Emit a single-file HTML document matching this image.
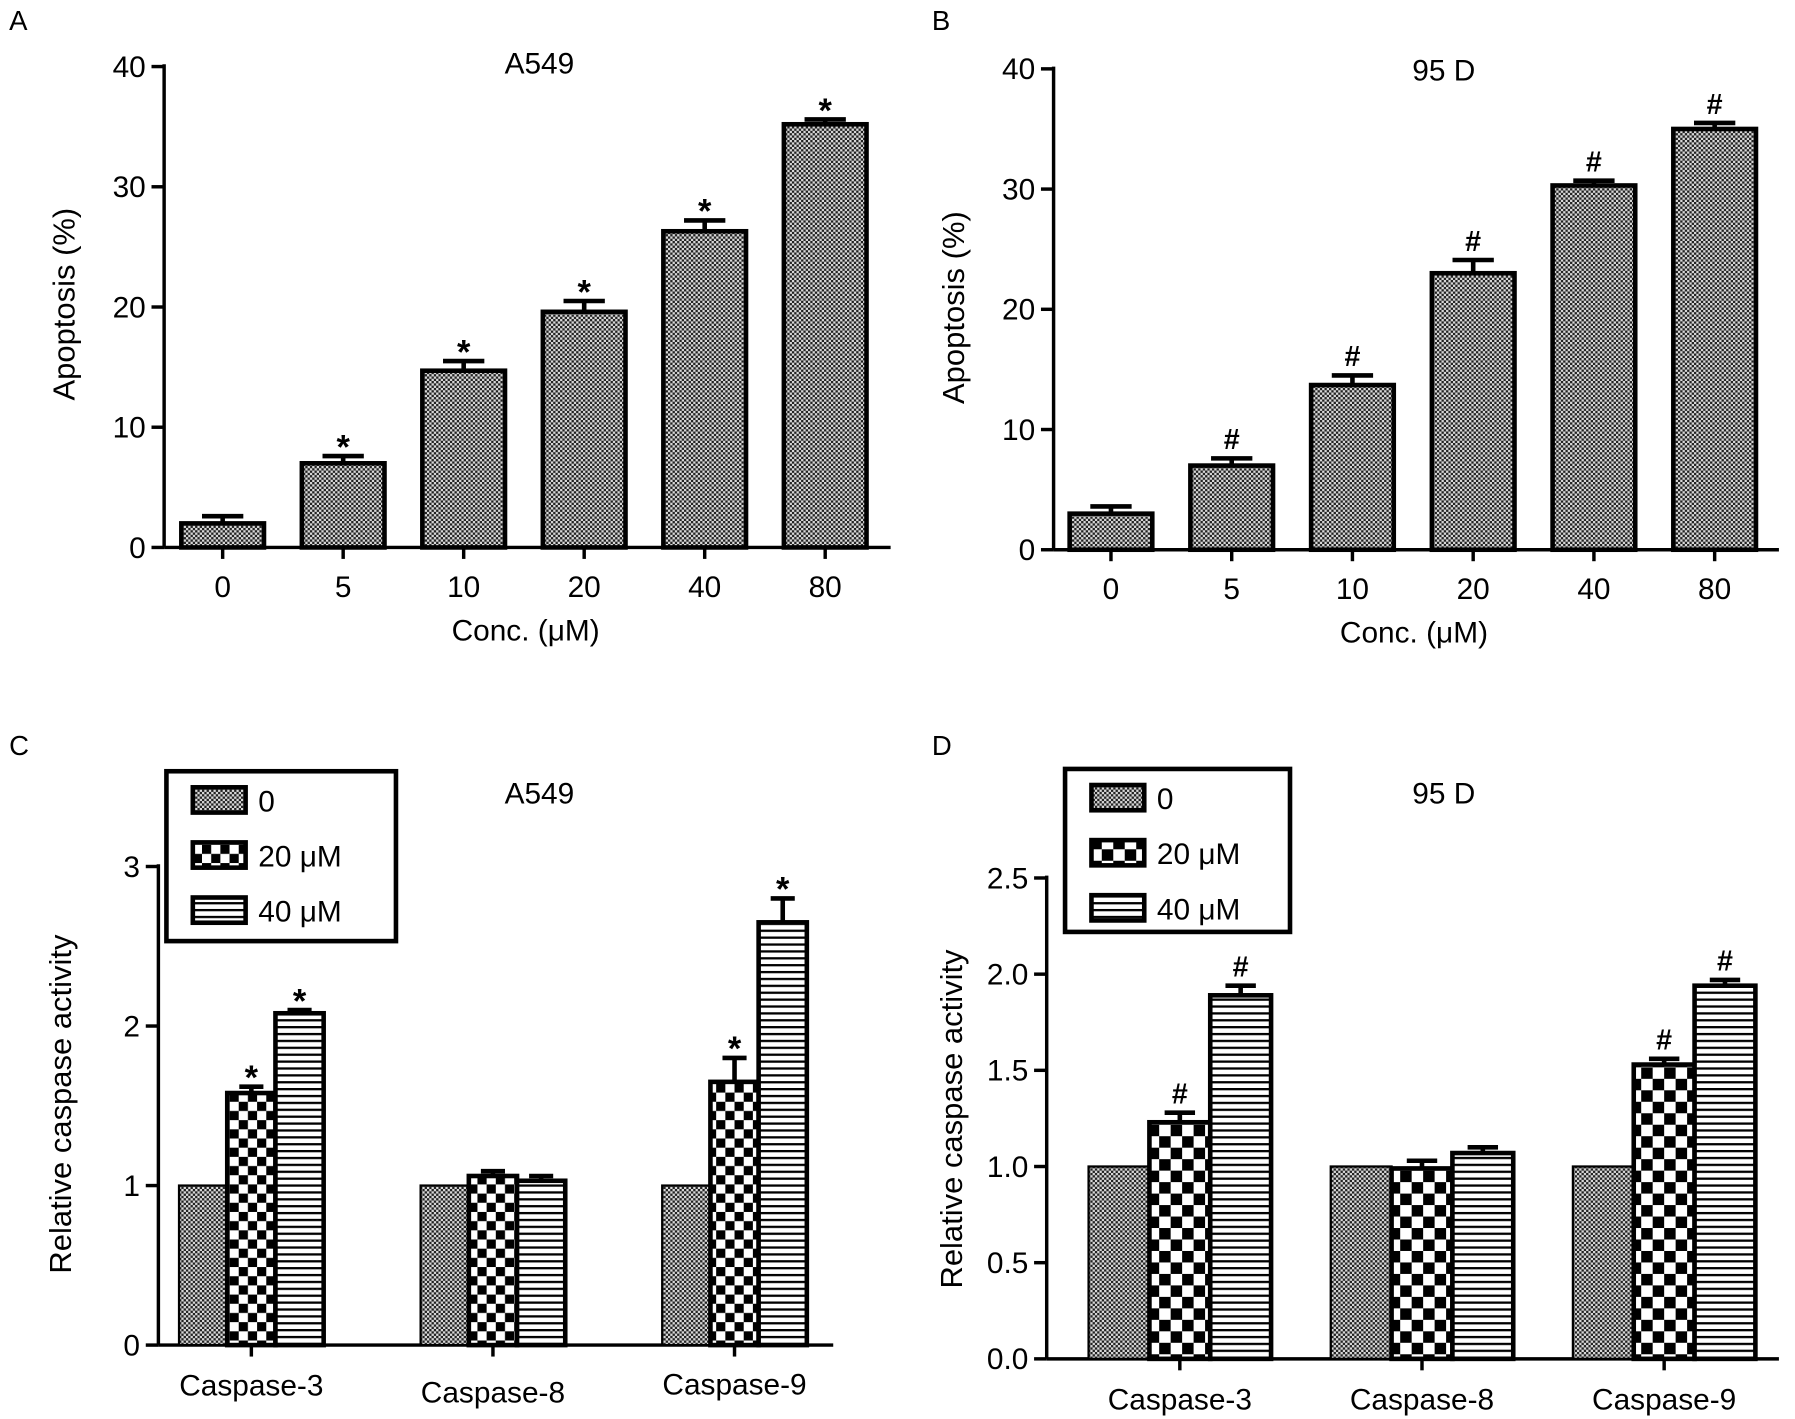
<!DOCTYPE html>
<html><head><meta charset="utf-8"><style>
html,body{margin:0;padding:0;background:#fff}
svg{display:block;font-family:"Liberation Sans",Arial,sans-serif}
</style></head><body>
<svg id="fig" width="1795" height="1419" viewBox="0 0 1564 1236.4" xmlns="http://www.w3.org/2000/svg">
<defs>
<pattern id="dots" width="4" height="4" patternUnits="userSpaceOnUse"><rect width="4" height="4" fill="#d8d8d8"/><rect width="2" height="2" fill="#222"/><rect x="2" y="2" width="2" height="2" fill="#222"/></pattern>
<pattern id="check" width="20" height="20" patternUnits="userSpaceOnUse"><rect width="20" height="20" fill="#fff"/><rect width="10" height="10" fill="#000"/><rect x="10" y="10" width="10" height="10" fill="#000"/></pattern>
<pattern id="checkS" width="16" height="16" patternUnits="userSpaceOnUse"><rect width="16" height="16" fill="#fff"/><rect width="8" height="8" fill="#000"/><rect x="8" y="8" width="8" height="8" fill="#000"/></pattern>
<pattern id="stripes" width="6" height="6" patternUnits="userSpaceOnUse"><rect width="6" height="6" fill="#fff"/><rect y="0" width="6" height="2" fill="#000"/></pattern>
</defs>
<g id="root"></g>
</svg>
<script>
// Panel A data
const catsA = ["0","5","10","20","40","80"];
const valsA = [2.0, 7.0, 14.7, 19.6, 26.3, 35.2];
const errA = [0.6, 0.6, 0.8, 0.9, 0.9, 0.4];
const ticksA = [0,10,20,30,40];
// Panel B data
const catsB = ["0","5","10","20","40","80"];
const valsB = [3.0, 7.0, 13.7, 23.0, 30.3, 35.0];
const errB = [0.6, 0.6, 0.8, 1.1, 0.4, 0.5];
const ticksB = [0,10,20,30,40];
// Panel C data
const groupsC = ["Caspase-3","Caspase-8","Caspase-9"];
const c0 = [1,1,1];
const c20 = [1.58, 1.06, 1.65];
const c20err = [0.04, 0.03, 0.15];
const c40 = [2.08, 1.03, 2.65];
const c40err = [0.02, 0.03, 0.15];
const ticksC = [0,1,2,3];
// Panel D data
const groupsD = ["Caspase-3","Caspase-8","Caspase-9"];
const d0 = [1,1,1];
const d20 = [1.23, 0.99, 1.53];
const d20err = [0.05, 0.04, 0.03];
const d40 = [1.89, 1.07, 1.94];
const d40err = [0.05, 0.03, 0.03];
const ticksD = ["0.0","0.5","1.0","1.5","2.0","2.5"];
const legendLabels = ["0","20 μM","40 μM"];

const NS="http://www.w3.org/2000/svg";
const root=document.getElementById('root');
function el(tag,attrs,parent,text){const e=document.createElementNS(NS,tag);for(const k in attrs)e.setAttribute(k,attrs[k]);if(text!==undefined)e.textContent=text;(parent||root).appendChild(e);return e;}
const FS=26;
function panel(cfg){
  const g=el('g',{});
  
  
  const y=v=>cfg.y0-(v-cfg.ymin)*(cfg.y0-cfg.ytop)/(cfg.ymax-cfg.ymin);
  const L=el('text',{x:cfg.letterX,y:cfg.letterY,'font-size':24},g,cfg.letter);
  
  
  const T=el('text',{x:cfg.titleX,y:cfg.titleY,'font-size':FS,'text-anchor':'middle'},g,cfg.title);
  
  
  const ya=el('line',{x1:cfg.ax,y1:cfg.ytop-2,x2:cfg.ax,y2:cfg.y0,stroke:'#000','stroke-width':3},g);
  
  
  const xa=el('line',{x1:cfg.ax,y1:cfg.y0,x2:cfg.axEnd,y2:cfg.y0,stroke:'#000','stroke-width':3},g);
  
  
  cfg.ticks.forEach(t=>{
    const v=parseFloat(t), yy=y(v);
    el('line',{x1:cfg.ax-11,y1:yy,x2:cfg.ax,y2:yy,stroke:'#000','stroke-width':3},g);
    const tl=el('text',{x:cfg.ax-16,y:yy+9,'font-size':FS,'text-anchor':'end'},g,String(t));
    
    
  });
  const yl=el('text',{transform:`translate(${cfg.ylx},${cfg.yly}) rotate(-90)`,'font-size':27,'text-anchor':'middle'},g,cfg.ylabel);
  
  
  return {g,y};
}
function bar(g,y,x,w,v,err,fill,mark,sw,name){
  const r=el('rect',{x:x,y:y(v),width:w,height:y(0)-y(v),fill:fill,stroke:'#000','stroke-width':sw},g);
  
  
  if(err>0){
    const cx=x+w/2, ty=y(v+err);
    el('line',{x1:cx,y1:y(v),x2:cx,y2:ty,stroke:'#000','stroke-width':4},g);
    el('line',{x1:cx-w*0.25,y1:ty,x2:cx+w*0.25,y2:ty,stroke:'#000','stroke-width':4},g);
  }
  if(mark){
    const m=el('text',{x:x+w/2,y:y(v+err)-(mark==='*'?-2:8),'font-size':mark==='*'?30:25,'font-weight':'bold','text-anchor':'middle'},g,mark);
    
    
  }
}
function conc(cfg,cats,vals,errs,mark){
  const {g,y}=panel(cfg);
  cats.forEach((c,i)=>{
    const cx=cfg.x0+i*cfg.step;
    bar(g,y,cx-cfg.bw/2,cfg.bw,vals[i],errs[i],'url(#dots)',i>0?mark:null,4,'bar-'+c);
    el('line',{x1:cx,y1:cfg.y0,x2:cx,y2:cfg.y0+10,stroke:'#000','stroke-width':3},g);
    const t=el('text',{x:cx,y:cfg.y0+43,'font-size':FS,'text-anchor':'middle'},g,c);
    
    
  });
  const xl=el('text',{x:cfg.xlx,y:cfg.xly,'font-size':FS,'text-anchor':'middle'},g,'Conc. (μM)');
  
  
}
function casp(cfg,groups,a,b,be,c,ce,mark){
  const {g,y}=panel(cfg);
  groups.forEach((gr,i)=>{
    const cx=cfg.x0+i*cfg.step, w=cfg.bw;
    bar(g,y,cx-1.5*w,w,a[i],0,'url(#dots)',null,2,'bar-'+gr+'-0');
    const sig=(i!==1);
    bar(g,y,cx-0.5*w,w,b[i],be[i],cfg.check,sig?mark:null,4,'bar-'+gr+'-20');
    bar(g,y,cx+0.5*w,w,c[i],ce[i],'url(#stripes)',sig?mark:null,4,'bar-'+gr+'-40');
    el('line',{x1:cx,y1:cfg.y0,x2:cx,y2:cfg.y0+10,stroke:'#000','stroke-width':3},g);
    const t=el('text',{x:cx,y:cfg.y0+cfg.labOff[i],'font-size':FS,'text-anchor':'middle'},g,gr);
    
    
  });
  const lg=el('g',{},g);
  
  
  el('rect',{x:cfg.lx,y:cfg.ly,width:cfg.lw,height:cfg.lh,fill:'#fff',stroke:'#000','stroke-width':4},lg);
  const fills=['url(#dots)',cfg.check,'url(#stripes)'];
  legendLabels.forEach((l,i)=>{
    const yy=cfg.ly+14+i*48;
    const e=el('g',{},lg);
    
    
    el('rect',{x:cfg.lx+23,y:yy,width:46,height:22,fill:fills[i],stroke:'#000','stroke-width':4},e);
    el('text',{x:cfg.lx+80,y:yy+21,'font-size':FS},e,l);
  });
}
conc({name:'panel-a',letter:'A',letterX:8,letterY:26,title:'A549',titleX:470,titleY:64,ax:143,axEnd:776,y0:477,ytop:58,ymin:0,ymax:40,ticks:ticksA,ylabel:'Apoptosis (%)',ylx:65,yly:265,x0:194,step:105,bw:72,xlx:458,xly:558},catsA,valsA,errA,'*');
conc({name:'panel-b',letter:'B',letterX:812,letterY:26,title:'95 D',titleX:1258,titleY:70,ax:918,axEnd:1550,y0:479,ytop:60,ymin:0,ymax:40,ticks:ticksB,ylabel:'Apoptosis (%)',ylx:840,yly:268,x0:968,step:105.2,bw:72,xlx:1232,xly:560},catsB,valsB,errB,'#');
casp({name:'panel-c',letter:'C',letterX:8,letterY:658,title:'A549',titleX:470,titleY:700,ax:138,axEnd:726,y0:1172,ytop:755,ymin:0,ymax:3,ticks:ticksC,ylabel:'Relative caspase activity',ylx:62,yly:962,x0:219,step:210.5,bw:42,labOff:[44,50,43],check:'url(#checkS)',lx:145,ly:672,lw:200,lh:148},groupsC,c0,c20,c20err,c40,c40err,'*');
casp({name:'panel-d',letter:'D',letterX:812,letterY:658,title:'95 D',titleX:1258,titleY:700,ax:912,axEnd:1550,y0:1184,ytop:765,ymin:0,ymax:2.5,ticks:ticksD,ylabel:'Relative caspase activity',ylx:838,yly:975,x0:1028,step:211,bw:53,labOff:[44,44,44],check:'url(#check)',lx:928,ly:670,lw:196,lh:142},groupsD,d0,d20,d20err,d40,d40err,'#');
</script>
</body></html>
